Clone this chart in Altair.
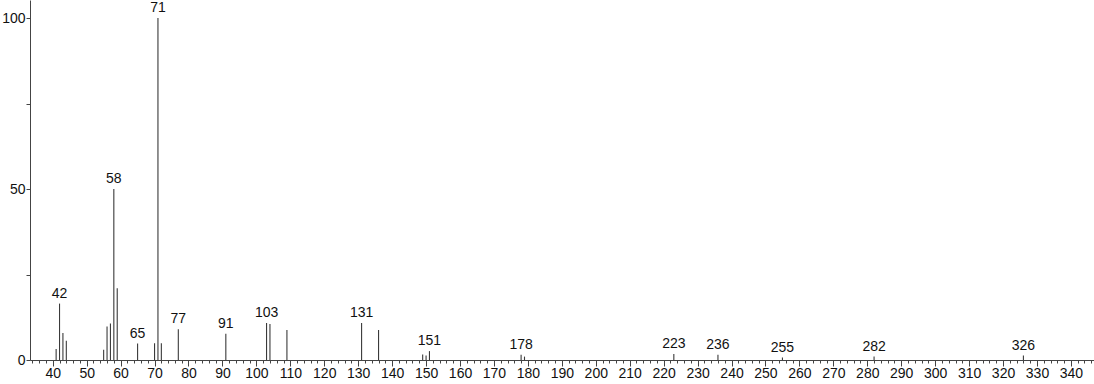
import altair as alt
import pandas as pd

mz = [41, 42, 43, 44, 55, 56, 57, 58, 59, 65, 70, 71, 72, 77, 91, 103, 104, 109,
      131, 136, 149, 150, 151, 178, 179, 223, 236, 255, 282, 326]
intensity = [3.2, 16.5, 7.9, 5.6, 3.0, 9.8, 10.7, 50.0, 21.0, 4.8, 4.9, 100.0, 4.9, 9.0,
             7.7, 10.8, 10.5, 8.8, 10.8, 8.8, 1.6, 1.3, 2.6, 1.5, 1.0, 1.75, 1.5, 0.7, 1.0, 1.3]
labeled = [42, 58, 65, 71, 77, 91, 103, 131, 151, 178, 223, 236, 255, 282, 326]

major_ticks = list(range(40, 341, 10))
minor_ticks = list(range(34, 347, 2))
y_ticks = [0, 25, 50, 75, 100]

df = pd.DataFrame({"mz": mz, "intensity": intensity})
df["label"] = [str(m) if m in labeled else "" for m in mz]

FONT = "Liberation Sans"
xscale = alt.Scale(domain=[33.3, 346.8], nice=False, zero=False)
yscale = alt.Scale(domain=[0, 105.3], nice=False)

yaxis = alt.Axis(values=y_ticks, title=None, grid=False, tickSize=4,
                 labelPadding=1, labelFontSize=14, labelFont=FONT, labelColor="#111",
                 domainColor="#444", tickColor="#444",
                 labelExpr="datum.value % 50 == 0 ? datum.label : ''")

base = alt.Chart(df)

peaks = base.mark_rule(color="#3a3a3a", strokeWidth=1.1).encode(
    x=alt.X("mz:Q", scale=xscale,
            axis=alt.Axis(values=major_ticks, orient="bottom", title=None, grid=False,
                          tickSize=6, labelPadding=0, labelFontSize=14, labelFont=FONT,
                          labelColor="#111", domainColor="#444", tickColor="#444",
                          labelFlush=False, labelOverlap=False)),
    y=alt.Y("intensity:Q", scale=yscale, axis=yaxis),
    y2=alt.datum(0),
)

minor = alt.Chart(df).mark_rule(opacity=0).encode(
    x=alt.X("mz:Q", scale=xscale,
            axis=alt.Axis(values=minor_ticks, orient="bottom", title=None, grid=False,
                          tickSize=3, labels=False, domain=False, tickColor="#444")),
)

labels = base.transform_filter("datum.label != ''").mark_text(
    baseline="bottom", dy=-3, fontSize=14, font=FONT, color="#111"
).encode(
    x=alt.X("mz:Q", scale=xscale, axis=None),
    y=alt.Y("intensity:Q", scale=yscale, axis=yaxis),
    text="label:N",
)

chart = alt.layer(peaks, minor, labels).resolve_axis(x="independent").properties(
    width=1064, height=360,
    autosize=alt.AutoSizeParams(type="none"),
    padding={"left": 30, "top": 0, "right": 0, "bottom": 24},
).configure_view(stroke=None)

chart.save("out.html", embed_options={"renderer": "svg", "actions": False})
